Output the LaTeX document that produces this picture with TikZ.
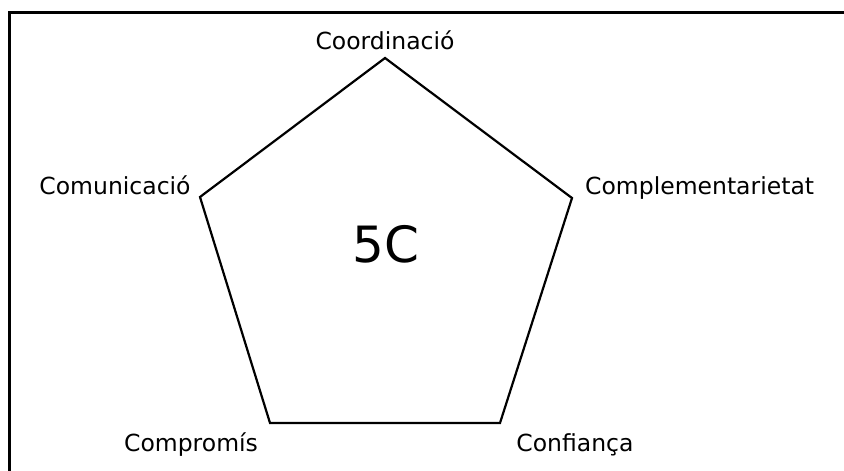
\documentclass[tikz,border=0pt]{standalone}
\usepackage{fontspec}
\setmainfont{DejaVu Sans}
\begin{document}
\begin{tikzpicture}[x=1pt,y=-1pt,
  lbl/.style={inner sep=0pt,anchor=base,font=\fontsize{23.5}{27}\selectfont},
  big/.style={inner sep=0pt,anchor=base,font=\fontsize{50}{60}\selectfont},
  frame/.style={line width=2.6pt,line cap=rect},
  pent/.style={line width=2.2pt,line join=miter}]
\useasboundingbox (0,0) rectangle (844,471);
% frame (top and left edges only)
\coordinate (fTR) at (846,12.5);
\coordinate (fTL) at (9.5,12.5);
\coordinate (fBL) at (9.5,473);
\draw[frame] (fTR) -- (fTL) -- (fBL);
% pentagon
\coordinate (vT) at (385,58);
\coordinate (vR) at (572,198);
\coordinate (vBR) at (500,423);
\coordinate (vBL) at (270,423);
\coordinate (vL) at (200,197);
\draw[pent] (vT) -- (vR) -- (vBR) -- (vBL) -- (vL) -- cycle;
% labels
\node[lbl] (coord) at (385,49) {Coordinació};
\node[lbl] (comu) at (115,194) {Comunicació};
\node[lbl,anchor=base west] (compl) at (585,194) {Complementarietat};
\node[lbl] (compr) at (191,451) {Compromís};
\node[lbl] (conf) at (575,451) {Confiança};
\node[big] (c5) at (386,262) {5C};
\end{tikzpicture}
\end{document}
